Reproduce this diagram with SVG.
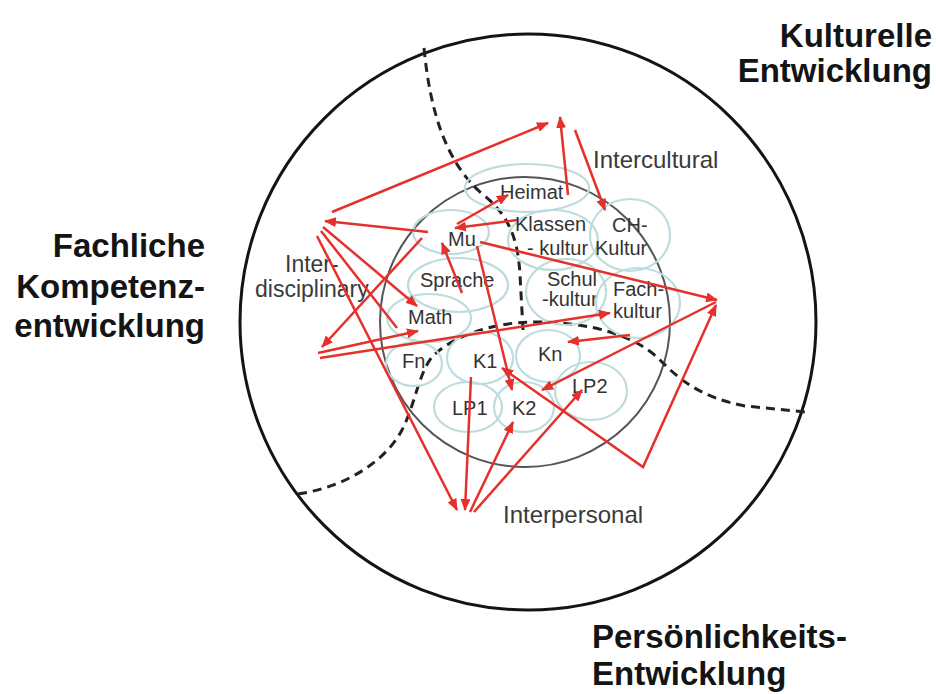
<svg xmlns="http://www.w3.org/2000/svg" width="936" height="694" viewBox="0 0 936 694">
<style>
.big{font-family:"Liberation Sans",Arial,sans-serif;font-weight:bold;font-size:33px;fill:#141414}
.mid{font-family:"Liberation Sans",Arial,sans-serif;font-size:24px;fill:#3a3a3a}
.lbl{font-family:"Liberation Sans",Arial,sans-serif;font-size:20px;fill:#333}
.bub{fill:none;stroke:#bddcdd;stroke-width:2.2}
.dash{fill:none;stroke:#222;stroke-width:3;stroke-dasharray:9 6}
.arr{fill:none;stroke:#e5302c;stroke-width:2.5;marker-end:url(#ah)}
.ln{fill:none;stroke:#e5302c;stroke-width:2.5}
</style>
<defs>
<marker id="ah" viewBox="0 0 12 10" refX="11" refY="5" markerWidth="12" markerHeight="10" markerUnits="userSpaceOnUse" orient="auto">
<path d="M0,0 L12,5 L0,10 z" fill="#e5302c"/>
</marker>
<marker id="ahs" viewBox="0 0 12 10" refX="11" refY="5" markerWidth="12" markerHeight="10" markerUnits="userSpaceOnUse" orient="auto-start-reverse">
<path d="M0,0 L12,5 L0,10 z" fill="#e5302c"/>
</marker>
</defs>
<rect width="936" height="694" fill="#fff"/>

<g id="field">
<circle cx="528" cy="322" r="288" fill="none" stroke="#141414" stroke-width="3"/>
<circle cx="525" cy="322" r="145" fill="none" stroke="#555" stroke-width="2"/>
<path class="dash" d="M424,48 C430,110 445,160 480,192 C510,215 518,240 520,275 L523,330"/>
<path class="dash" d="M298,494 C345,487 385,462 402,430 C415,405 418,375 432,357 C450,338 490,322 535,322 C590,322 635,335 660,360 C680,380 700,397 745,406 L805,412"/>
</g>

<g id="titles">
<text class="big" x="932" y="47" text-anchor="end">Kulturelle</text>
<text class="big" x="932" y="82" text-anchor="end">Entwicklung</text>
<text class="big" x="205" y="257" text-anchor="end">Fachliche</text>
<text class="big" x="205" y="298" text-anchor="end">Kompetenz-</text>
<text class="big" x="205" y="337" text-anchor="end">entwicklung</text>
<text class="big" x="592" y="648">Persönlichkeits-</text>
<text class="big" x="592" y="685">Entwicklung</text>
</g>

<g id="intercultural"><text class="mid" x="593" y="168">Intercultural</text></g>
<g id="interpersonal"><text class="mid" x="503" y="523">Interpersonal</text></g>
<g id="interdisciplinary"><text class="mid" x="285" y="272" style="font-size:23px">Inter-</text><text class="mid" x="255" y="297" style="font-size:23px">disciplinary</text></g>

<g id="heimat"><ellipse class="bub" cx="527" cy="188" rx="62" ry="24"/><text class="lbl" x="500" y="199">Heimat</text></g>
<g id="klassenkultur"><ellipse class="bub" cx="553" cy="240" rx="45" ry="30"/><text class="lbl" x="515" y="231">Klassen</text><text class="lbl" x="527" y="255">- kultur</text></g>
<g id="chkultur"><ellipse class="bub" cx="630" cy="235" rx="40" ry="36"/><text class="lbl" x="612" y="232">CH-</text><text class="lbl" x="595" y="255">Kultur</text></g>
<g id="mu"><ellipse class="bub" cx="451" cy="232" rx="38" ry="22"/><text class="lbl" x="448" y="246">Mu</text></g>
<g id="sprache"><ellipse class="bub" cx="458" cy="285" rx="50" ry="27"/><text class="lbl" x="420" y="287">Sprache</text></g>
<g id="schulkultur"><ellipse class="bub" cx="566" cy="292" rx="40" ry="33"/><text class="lbl" x="547" y="286">Schul</text><text class="lbl" x="542" y="306">-kultur</text></g>
<g id="fachkultur"><ellipse class="bub" cx="638" cy="303" rx="42" ry="35"/><text class="lbl" x="613" y="296">Fach-</text><text class="lbl" x="613" y="318">kultur</text></g>
<g id="math"><ellipse class="bub" cx="429" cy="318" rx="42" ry="24"/><text class="lbl" x="408" y="324">Math</text></g>
<g id="fn"><ellipse class="bub" cx="414" cy="364" rx="28" ry="22"/><text class="lbl" x="402" y="368">Fn</text></g>
<g id="k1"><ellipse class="bub" cx="480" cy="358" rx="33" ry="26"/><text class="lbl" x="473" y="368">K1</text></g>
<g id="kn"><ellipse class="bub" cx="548" cy="356" rx="32" ry="26"/><text class="lbl" x="538" y="361">Kn</text></g>
<g id="lp1"><ellipse class="bub" cx="468" cy="407" rx="34" ry="25"/><text class="lbl" x="452" y="415">LP1</text></g>
<g id="k2"><ellipse class="bub" cx="524" cy="407" rx="30" ry="25"/><text class="lbl" x="512" y="415">K2</text></g>
<g id="lp2"><ellipse class="bub" cx="591" cy="391" rx="36" ry="29"/><text class="lbl" x="572" y="393">LP2</text></g>

<g id="connectors">
<line class="arr" x1="332" y1="212" x2="548" y2="123"/>
<line class="arr" x1="428" y1="232" x2="325" y2="221"/>
<line class="arr" x1="323" y1="227" x2="417" y2="306"/>
<line class="ln" x1="321" y1="231" x2="397" y2="328"/>
<line class="arr" x1="317" y1="236" x2="457" y2="510"/>
<line class="arr" x1="422" y1="238" x2="322" y2="347"/>
<line class="arr" x1="318" y1="353" x2="418" y2="331"/>
<line class="arr" x1="320" y1="358" x2="610" y2="313"/>
<line class="arr" x1="517" y1="220" x2="455" y2="228"/>
<line class="arr" x1="457" y1="224" x2="508" y2="195"/>
<line class="arr" x1="462" y1="293" x2="442" y2="243"/>
<line class="arr" x1="568" y1="195" x2="560" y2="117"/>
<line class="arr" x1="575" y1="130" x2="605" y2="210"/>
<line class="arr" x1="480" y1="242" x2="717" y2="300"/>
<line class="arr" x1="477" y1="246" x2="512" y2="390"/>
<path class="ln" d="M502,368 L643,467 L716,305" marker-start="url(#ahs)" marker-end="url(#ah)"/>
<line class="arr" x1="716" y1="302" x2="542" y2="390"/>
<line class="arr" x1="630" y1="335" x2="568" y2="342"/>
<line class="arr" x1="471" y1="377" x2="465" y2="510"/>
<line class="arr" x1="470" y1="512" x2="513" y2="422"/>
<line class="arr" x1="474" y1="512" x2="582" y2="390"/>
</g>
</svg>
